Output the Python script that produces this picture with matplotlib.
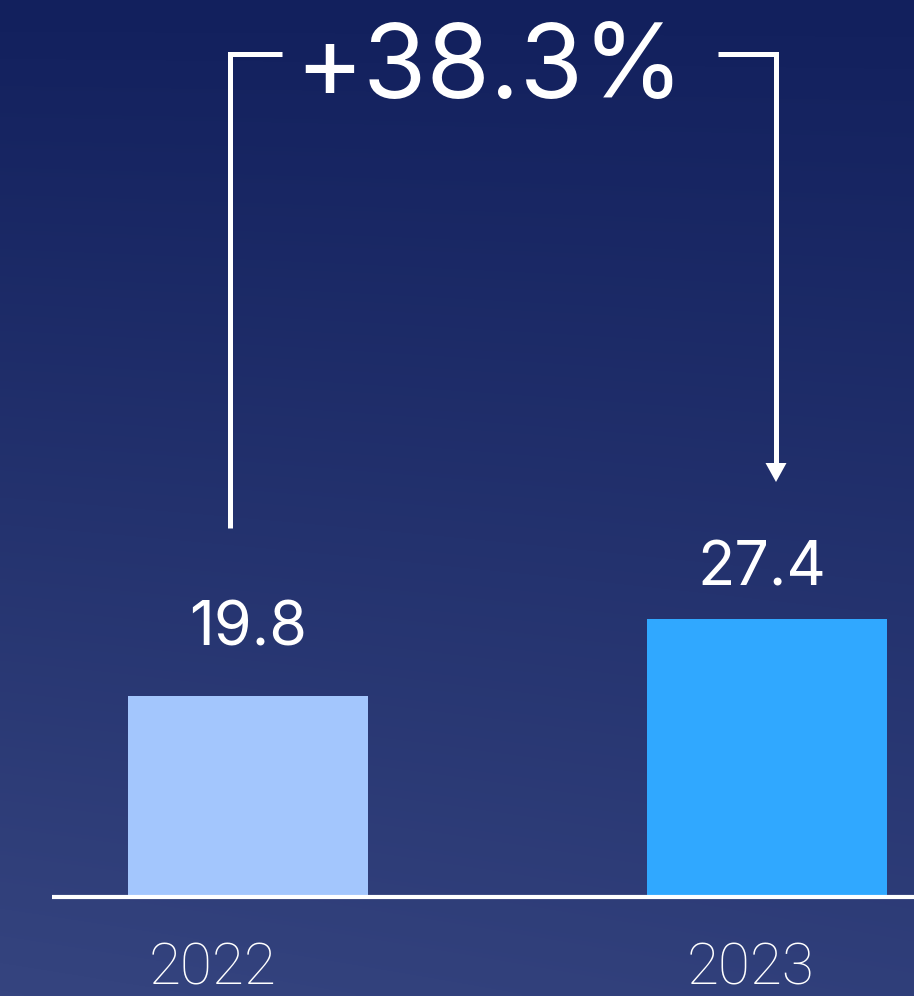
import matplotlib
matplotlib.use("Agg")
import matplotlib.pyplot as plt
import numpy as np
from matplotlib.colors import LinearSegmentedColormap
from matplotlib import font_manager

# ---- data ----
years = ["2022", "2023"]
values = [19.8, 27.4]
growth_label = "+38.3%"

# ---- style ----
W, H, DPI = 914, 996, 100
bar_colors = ["#a3c6fd", "#30a8ff"]
top_col, bot_col = "#12205d", "#35447f"

def pick(names):
    avail = {f.name for f in font_manager.fontManager.ttflist}
    for n in names:
        if n in avail:
            return n
    return "DejaVu Sans"

main_font = pick(["Inter", "Liberation Sans", "DejaVu Sans"])
light_font = pick(["Roboto", "Lato", "Open Sans", "Liberation Sans"])

fig = plt.figure(figsize=(W / DPI, H / DPI), dpi=DPI)

# background gradient
bg = fig.add_axes([0, 0, 1, 1], zorder=0)
yy, xx = np.mgrid[0:1:300j, 0:1:300j]
grad = np.clip(0.85 * yy + 0.15 * (1 - xx) * yy, 0, 1)
cmap = LinearSegmentedColormap.from_list("bg", [top_col, bot_col])
bg.imshow(grad, cmap=cmap, aspect="auto", extent=[0, 1, 1, 0], interpolation="bicubic")
bg.set_axis_off()

# main axes: pixel mapping
base_px = 897          # baseline pixel from top
px_per_unit = 10.15    # vertical scale
px_per_cat = 519.0     # horizontal distance between bars
c0_px = 248.0          # center of first bar

ax = fig.add_axes([0, 0, 1, 1], zorder=1)
ax.patch.set_alpha(0)
ax.set_xlim(-c0_px / px_per_cat, (W - c0_px) / px_per_cat)
ax.set_ylim(-(H - base_px) / px_per_unit, base_px / px_per_unit)
ax.set_axis_off()

def dx(px):  # pixel x -> data
    return (px - c0_px) / px_per_cat

def dy(py):  # pixel y from top -> data
    return (base_px - py) / px_per_unit

xpos = np.arange(len(values))
ax.bar(xpos, values, width=240 / px_per_cat, color=bar_colors, zorder=2)

# baseline
ax.plot([dx(52), dx(W + 5)], [0, 0], color="white", lw=3, solid_capstyle="butt", zorder=3)

# value labels
label_offsets_px = [51, 33]
label_dx_px = [0, -5]
for i, v in enumerate(values):
    ax.annotate(f"{v}", xy=(xpos[i], v), xytext=(label_dx_px[i] * 0.72, label_offsets_px[i] * 0.72),
                textcoords="offset points", ha="center", va="baseline",
                color="white", fontsize=44, family=main_font)

# year labels
year_x_px = [212.5, 751]
for i, y in enumerate(years):
    ax.text(dx(year_x_px[i]), dy(984), y, ha="center", va="baseline", color="white",
            fontsize=42, family=light_font, fontweight="light")

# bracket
lw = 3.6
top_y = dy(54)
ax.plot([dx(230), dx(230), dx(282)], [dy(528), top_y, top_y], color="white", lw=lw,
        solid_joinstyle="miter", solid_capstyle="butt", zorder=3)
ax.plot([dx(718), dx(776), dx(776)], [top_y, top_y, dy(466)], color="white", lw=lw,
        solid_joinstyle="miter", solid_capstyle="butt", zorder=3)
# arrowhead
ax.fill([dx(765.5), dx(786.5), dx(776)], [dy(463), dy(463), dy(482)], color="white", lw=0, zorder=3)

ax.text(dx(489.5), dy(98), growth_label, ha="center", va="baseline", color="white",
        fontsize=74, family=main_font)

fig.savefig("out.png", dpi=DPI)
